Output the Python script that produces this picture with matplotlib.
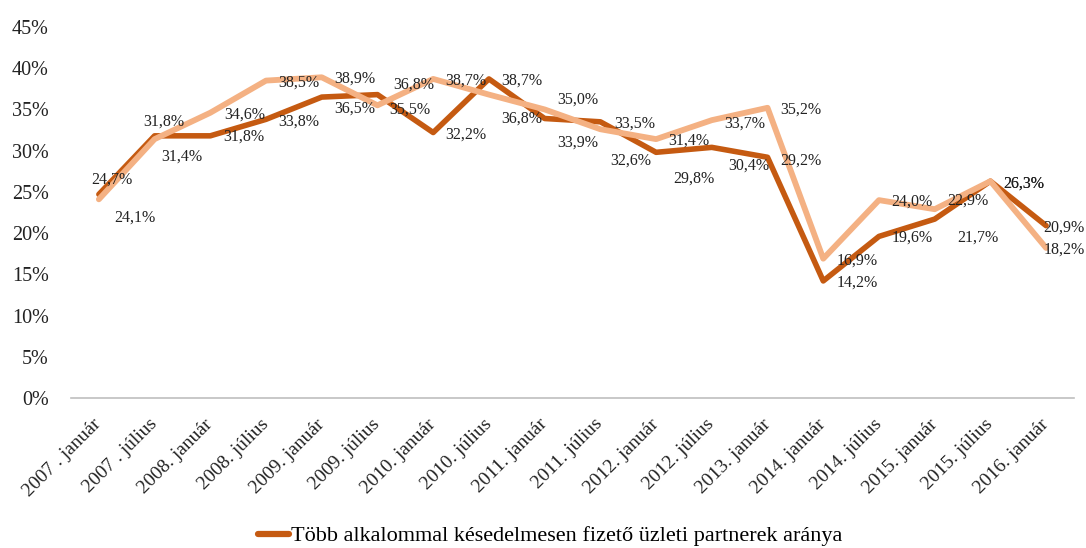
import matplotlib
matplotlib.use("Agg")
import matplotlib.pyplot as plt

# ---- data ----
categories = ["2007 . január", "2007 . július", "2008. január", "2008. július",
              "2009. január", "2009. július", "2010. január", "2010. július",
              "2011. január", "2011. július", "2012. január", "2012. július",
              "2013. január", "2014. január", "2014. július", "2015. január",
              "2015. július", "2016. január"]
dark_values = [24.7, 31.8, 31.8, 33.8, 36.5, 36.8, 32.2, 38.7, 33.9, 33.5,
               29.8, 30.4, 29.2, 14.2, 19.6, 21.7, 26.3, 20.9]
light_values = [24.1, 31.4, 34.6, 38.5, 38.9, 35.5, 38.7, 36.8, 35.0, 32.6,
                31.4, 33.7, 35.2, 16.9, 24.0, 22.9, 26.3, 18.2]
dark_name = "Több alkalommal késedelmesen fizető üzleti partnerek aránya"
yticks = [0, 5, 10, 15, 20, 25, 30, 35, 40, 45]

# label offsets (pixels, right/down in image)
dark_off = [(13, -14.5), (9, -14), (34, 1), (33, 2.5), (33, 12), (36, -10),
            (33, 2), (33, 2), (33, 24), (34, 2), (38, 26), (37, 18), (33, 3),
            (34, 2), (33, 1.5), (43, 19), (33, 2), (18, 2)]
light_off = [(36, 18), (27, 18), (34, 2), (33, 2), (33, 1.5), (32, 4.5),
             (33, 2), (33, 24), (33, -9.6), (30, 31), (33, 2), (33, 3), (33, 2),
             (34, 2), (33, 2), (33, -9), (33, 2), (18, 2)]

DARK = "#C55A11"
LIGHT = "#F4B183"
FONT = "Liberation Serif"
plt.rcParams['font.family'] = [FONT, 'DejaVu Serif']

fig = plt.figure(figsize=(10.86, 5.48), dpi=100)
W, H = 1086, 548
ax = fig.add_axes([71 / W, 1 - 398 / H, (1074 - 71) / W, (398 - 27) / H])

x = list(range(len(categories)))
ax.plot(x, dark_values, color=DARK, lw=4.0, solid_capstyle='round',
        solid_joinstyle='round', label=dark_name, zorder=2)
ax.plot(x, light_values, color=LIGHT, lw=4.2, solid_capstyle='round',
        solid_joinstyle='round', zorder=3)

def fmt(v):
    return f"{v:.1f}".replace(".", ",") + "%"

for xi, v, (dx, dy) in zip(x, dark_values, dark_off):
    ax.annotate(fmt(v), (xi, v), xytext=(dx, -dy), textcoords='offset pixels',
                ha='center', va='center', fontsize=11.5, color='#222222', zorder=5)
for xi, v, (dx, dy) in zip(x, light_values, light_off):
    ax.annotate(fmt(v), (xi, v), xytext=(dx, -dy), textcoords='offset pixels',
                ha='center', va='center', fontsize=11.5, color='#222222', zorder=5)

ax.set_xlim(-0.5, len(categories) - 0.5)
ax.set_ylim(0, 45)
ax.set_yticks(yticks)
ax.set_yticklabels([f"{t}%" for t in yticks], fontsize=14.5, color='#222222')
ax.set_xticks(x)
ax.set_xticklabels(categories, rotation=45, ha='right', va='center',
                   rotation_mode='anchor', fontsize=14, color='#222222')
ax.tick_params(axis='both', length=0)
ax.tick_params(axis='y', pad=16)
ax.tick_params(axis='x', pad=17)
for s in ['top', 'right', 'left']:
    ax.spines[s].set_visible(False)
ax.spines['bottom'].set_color('#BFBFBF')
ax.spines['bottom'].set_linewidth(1.2)

leg = fig.legend(loc='center', bbox_to_anchor=(550 / W, 1 - 536 / H),
                 frameon=False, fontsize=16, handlelength=1.4, handletextpad=0.1,
                 borderaxespad=0)
for line in leg.get_lines():
    line.set_linewidth(4.5)
    line.set_solid_capstyle('round')

fig.savefig("out.png", dpi=100)
